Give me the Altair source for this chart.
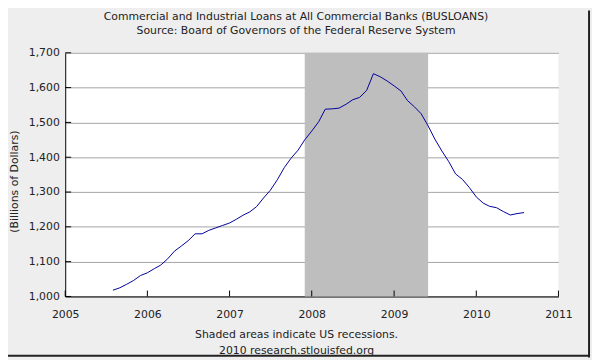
import altair as alt
import pandas as pd

# BUSLOANS, billions of dollars, monthly Aug 2005 - Aug 2010
start_month = "2005-08-01"
loans = [1018, 1025, 1035, 1046, 1060, 1068, 1080, 1090, 1108, 1130,
         1145, 1160, 1180, 1180, 1190, 1197, 1204, 1211, 1222, 1233,
         1243, 1258, 1283, 1305, 1335, 1370, 1397, 1420, 1450, 1475,
         1502, 1538, 1539, 1541, 1552, 1565, 1572, 1592, 1640, 1631,
         1619, 1605, 1590, 1563, 1545, 1525, 1490, 1452, 1418, 1387,
         1352, 1336, 1313, 1286, 1268, 1259, 1255, 1244, 1234, 1238,
         1241]
recession_start = ["2007-12-01T00:00:00"]
recession_end = ["2009-06-01T00:00:00"]
x_years = [2005, 2006, 2007, 2008, 2009, 2010, 2011]
y_ticks = [1000, 1100, 1200, 1300, 1400, 1500, 1600, 1700]

title_lines = ["Commercial and Industrial Loans at All Commercial Banks (BUSLOANS)",
               "Source: Board of Governors of the Federal Reserve System"]
x_title = ["Shaded areas indicate US recessions.", "2010 research.stlouisfed.org"]
y_title = "(Billions of Dollars)"

months = pd.date_range(start_month, periods=len(loans), freq="MS").strftime("%Y-%m-%dT00:00:00")
df = pd.DataFrame({"date": months, "value": loans})
rec = pd.DataFrame({"start": recession_start, "end": recession_end})
xt = pd.DataFrame({"d": [f"{y}-01-01T00:00:00" for y in x_years]})
yt = pd.DataFrame({"v": y_ticks})
frame_df = pd.DataFrame({"a": [0]})
title_df = pd.DataFrame({"t": ["\n".join(title_lines)]})

FONT = "DejaVu Sans"
xscale = alt.Scale(domain=[alt.DateTime(year=2005, month=1, date=1),
                           alt.DateTime(year=2011, month=1, date=1)])
yscale = alt.Scale(domain=[1000, 1700], nice=False, zero=False)

xaxis = alt.Axis(values=[alt.DateTime(year=y, month=1, date=1) for y in x_years],
                 format="%Y", title=x_title, grid=False, ticks=False,
                 domainColor="black", domainWidth=1, labelPadding=12,
                 labelOverlap=False, labelFlush=False,
                 labelFont=FONT, labelFontSize=11, labelColor="#222",
                 titleFont=FONT, titleFontSize=11, titleFontWeight="normal",
                 titleColor="#222", titleX=234, titleY=33, titleBaseline="top",
                 titleLineHeight=15.5)
yaxis = alt.Axis(values=y_ticks, format=",d", title=y_title, grid=True,
                 gridColor="#A4A4A4", gridWidth=1, ticks=False,
                 domainColor="black", domainWidth=1, labelPadding=6,
                 labelOverlap=False, labelFlush=False,
                 labelFont=FONT, labelFontSize=11, labelColor="#222",
                 titleFont=FONT, titleFontSize=11, titleFontWeight="normal",
                 titleColor="#222", titleX=-51, titleY=130, titleAngle=-90,
                 titleAlign="center", titleBaseline="middle")

shade = alt.Chart(rec).mark_rect(color="#BEBEBE").encode(
    x=alt.X("start:T", scale=xscale, axis=xaxis),
    x2="end:T",
)

line = alt.Chart(df).mark_line(color="#000099", strokeWidth=1).encode(
    x=alt.X("date:T", scale=xscale, axis=xaxis),
    y=alt.Y("value:Q", scale=yscale, axis=yaxis),
)

xticks = alt.Chart(xt).mark_rule(color="black", strokeWidth=1).encode(
    x=alt.X("d:T", scale=xscale, axis=xaxis),
    y=alt.value(247), y2=alt.value(241),
)

yticks = alt.Chart(yt).mark_rule(color="black", strokeWidth=1).encode(
    y=alt.Y("v:Q", scale=yscale, axis=yaxis),
    x=alt.value(0), x2=alt.value(6),
)

title = alt.Chart(title_df).mark_text(
    font=FONT, fontSize=11, color="#222", align="center", baseline="top",
    lineBreak="\n", lineHeight=14.2,
).encode(text="t:N", x=alt.value(234), y=alt.value(-42))

frame_right = alt.Chart(frame_df).mark_rule(color="#222", strokeWidth=2).encode(
    x=alt.value(531), y=alt.value(-43), y2=alt.value(309),
)
frame_bottom = alt.Chart(frame_df).mark_rule(color="#222", strokeWidth=2).encode(
    y=alt.value(307), x=alt.value(-58), x2=alt.value(532),
)

chart = alt.layer(shade, line, xticks, yticks, title, frame_right, frame_bottom).properties(
    width=500, height=247,
    autosize=alt.AutoSizeParams(type="none"),
    padding={"left": 58, "top": 43, "right": 34, "bottom": 62},
    background="#EEEEEE",
).configure_view(fill="white", strokeWidth=0)

chart.save("out.html", embed_options={"renderer": "svg", "actions": False})
